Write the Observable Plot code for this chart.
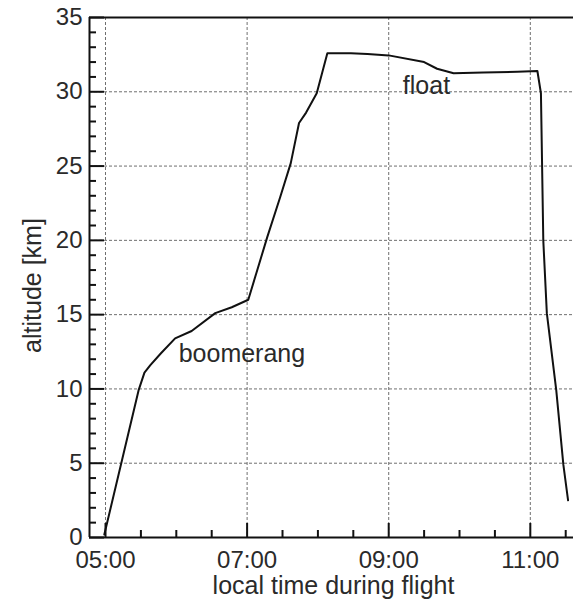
<!DOCTYPE html>
<html>
<head>
<meta charset="utf-8">
<script src="https://cdn.jsdelivr.net/npm/d3@7"></script>
<script src="https://cdn.jsdelivr.net/npm/@observablehq/plot@0.6"></script>
<style>
  html, body { margin: 0; padding: 0; background: #fff; }
  svg { display: block; }
</style>
</head>
<body>
<div id="chart"></div>
<script>
// Balloon flight profile: local time (HH:MM) and altitude in km
const times = ["04:59","05:28","05:33","05:38","05:47","05:59","06:13","06:33","06:47","07:01",
               "07:17","07:28","07:37","07:44","07:50","07:59","08:08","08:28","08:42","09:00",
               "09:30","09:41","09:55","10:20","10:49","11:06","11:09","11:11","11:14","11:22",
               "11:28","11:32"];
const altitudes = [0.2, 9.9, 11.1, 11.6, 12.4, 13.4, 13.9, 15.1, 15.5, 16.0,
                   20.2, 22.9, 25.2, 27.9, 28.6, 29.9, 32.6, 32.6, 32.55, 32.45,
                   32.0, 31.55, 31.25, 31.3, 31.35, 31.4, 29.9, 20.0, 15.1, 9.9,
                   4.9, 2.5];

// Phase annotations
const phaseLabels = ["boomerang", "float"];
const phaseTimes = ["06:02", "09:12"];
const phaseAltitudes = [11.78, 29.88];

// Axis ticks
const xTickLabels = ["05:00", "07:00", "09:00", "11:00"];
const xMinorLabels = ["05:30","06:00","06:30","07:30","08:00","08:30","09:30","10:00","10:30","11:30"];
const xDomainLabels = ["04:46:26", "11:36:36"];
const yTicks = [0, 5, 10, 15, 20, 25, 30, 35];
const yMinorTicks = d3.range(1, 35).filter(v => v % 5 !== 0);

const parseHM = d3.utcParse("%H:%M");
const parseHMS = d3.utcParse("%H:%M:%S");
const toTime = s => parseHMS(s) || parseHM(s);

const flight = times.map((t, i) => ({time: toTime(t), altitude: altitudes[i]}));
const phases = phaseLabels.map((label, i) => ({label, time: toTime(phaseTimes[i]), altitude: phaseAltitudes[i]}));
const xMajor = xTickLabels.map(toTime);
const xMinor = xMinorLabels.map(toTime);
const xDomain = xDomainLabels.map(toTime);

const W = 573, H = 606;
const mTop = 17, mRight = 0, mBottom = 69, mLeft = 89;
const innerW = W - mLeft - mRight;
const innerH = H - mTop - mBottom;

const ink = "#111";
const textInk = "#2a2a2a";
const gridStyle = {stroke: "#6f6f6f", strokeWidth: 1, strokeDasharray: "3,2"};

const chart = Plot.plot({
  width: W,
  height: H,
  marginTop: mTop,
  marginRight: mRight,
  marginBottom: mBottom,
  marginLeft: mLeft,
  style: {
    fontFamily: "'Liberation Sans', Arial, Helvetica, sans-serif",
    fontSize: "24px",
    color: textInk,
    background: "#fff"
  },
  x: {
    type: "utc",
    domain: xDomain,
    ticks: xMajor,
    tickSize: 0,
    tickPadding: 13,
    tickFormat: d3.utcFormat("%H:%M"),
    label: null
  },
  y: {
    domain: [0, 35],
    ticks: yTicks,
    tickSize: 0,
    tickPadding: 7,
    label: null
  },
  marks: [
    // dashed grid at major ticks
    Plot.ruleX(xMajor, {x: d => d, ...gridStyle}),
    Plot.ruleY(yTicks.filter(v => v > 0 && v < 35), {y: d => d, ...gridStyle}),
    // flight profile
    Plot.line(flight, {x: "time", y: "altitude", stroke: ink, strokeWidth: 2, strokeLinejoin: "round"}),
    // phase labels
    Plot.text(phases, {x: "time", y: "altitude", text: "label", textAnchor: "start", lineAnchor: "bottom",
                       fill: textInk, fontSize: 25}),
    // frame: left, bottom and top lines
    Plot.ruleX([xDomain[0]], {x: d => d, stroke: ink, strokeWidth: 2}),
    Plot.ruleY([0, 35], {y: d => d, stroke: ink, strokeWidth: 2}),
    // inward ticks on the y axis
    Plot.ruleY(yTicks, {y: d => d, insetRight: innerW - 15, stroke: ink, strokeWidth: 2}),
    Plot.ruleY(yMinorTicks, {y: d => d, insetRight: innerW - 7, stroke: ink, strokeWidth: 2}),
    // inward ticks on the x axis
    Plot.ruleX(xMajor, {x: d => d, insetTop: innerH - 14, stroke: ink, strokeWidth: 2}),
    Plot.ruleX(xMinor, {x: d => d, insetTop: innerH - 7, stroke: ink, strokeWidth: 2}),
    // axis titles
    Plot.text(["local time during flight"], {frameAnchor: "bottom", dx: 2, dy: 56, lineAnchor: "bottom",
                                             fill: textInk, fontSize: 25}),
    Plot.text(["altitude [km]"], {frameAnchor: "left", rotate: -90, dx: -49, dy: 8, lineAnchor: "bottom",
                                  textAnchor: "middle", fill: textInk, fontSize: 25})
  ]
});

document.getElementById("chart").appendChild(chart);
</script>
</body>
</html>
